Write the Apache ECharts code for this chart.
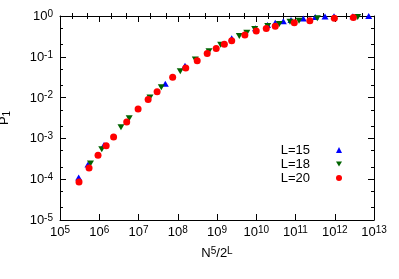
<!DOCTYPE html>
<html><head><meta charset="utf-8">
<script src="https://cdn.jsdelivr.net/npm/echarts@6/dist/echarts.min.js"></script>
<style>html,body{margin:0;padding:0;background:#fff}#c{width:399px;height:279px}</style>
</head><body><div id="c"></div>
<script>
// ---- data ----
const seriesNames = ['L=15', 'L=18', 'L=20'];
const xL15 = [2.99e5, 5.16e5, 1.32e6, 4.82e7, 1.53e8, 2.37e9, 9.57e9, 1.94e10, 3.05e10, 4.89e10, 7.68e10, 1.58e11, 3.18e11, 5.65e11, 9.58e11, 2.9e12, 7.33e12];
const yL15 = [1.10e-4, 2.29e-4, 6.89e-4, 2.19e-2, 6.05e-2, 0.284, 0.50, 0.60, 0.685, 0.741, 0.798, 0.868, 0.94, 0.977, 0.99, 0.99, 1.0];
const xL18 = [5.98e5, 1.16e6, 3.58e6, 5.8e6, 1.96e7, 3.81e7, 1.16e8, 2.80e8, 6.25e8, 1.24e9, 3.70e9, 5.74e9, 9.14e9, 1.96e10, 3.86e10, 7.24e10, 1.23e11, 3.59e11, 3.85e12];
const yL18 = [2.43e-4, 5.41e-4, 1.88e-3, 3.11e-3, 1.0e-2, 1.80e-2, 4.41e-2, 8.59e-2, 0.136, 0.198, 0.323, 0.39, 0.48, 0.569, 0.637, 0.725, 0.767, 0.879, 0.945];
const xL20 = [3.05e5, 5.50e5, 9.31e5, 1.50e6, 2.32e6, 5.01e6, 9.77e6, 1.76e7, 2.98e7, 7.42e7, 1.60e8, 3.13e8, 5.63e8, 9.54e8, 1.54e9, 2.37e9, 5.13e9, 1.00e10, 1.80e10, 3.05e10, 9.31e10, 2.32e11, 9.77e11, 2.98e12];
const yL20 = [8.5e-5, 1.88e-4, 3.85e-4, 6.6e-4, 1.08e-3, 2.52e-3, 5.26e-3, 8.98e-3, 1.39e-2, 3.15e-2, 5.31e-2, 8.0e-2, 0.120, 0.160, 0.204, 0.248, 0.342, 0.429, 0.497, 0.562, 0.685, 0.767, 0.879, 0.919];
// tick labels (exponents of 10)
const xTickExps = [5, 6, 7, 8, 9, 10, 11, 12, 13];
const yTickExps = [-5, -4, -3, -2, -1, 0];
// minor ticks
const xMinor = [2e5, 5e5, 2e6, 5e6, 2e7, 5e7, 2e8, 5e8, 2e9, 5e9, 2e10, 5e10, 2e11, 5e11, 2e12, 5e12];
const yMinor = [2e-5, 5e-5, 2e-4, 5e-4, 2e-3, 5e-3, 2e-2, 5e-2, 2e-1, 5e-1];

const FONT = 'Liberation Sans';
const rich = {
  b: { fontSize: 13, fontFamily: FONT, color: '#000', lineHeight: 14, padding: [3, 0, 0, 0], verticalAlign: 'bottom' },
  s: { fontSize: 10, fontFamily: FONT, color: '#000', lineHeight: 10, verticalAlign: 'top' }
};
const richSub = {
  b: { fontSize: 13, fontFamily: FONT, color: '#000', lineHeight: 14, padding: [0, 0, 5, 0], verticalAlign: 'top' },
  u: { fontSize: 10, fontFamily: FONT, color: '#000', lineHeight: 10, verticalAlign: 'bottom' }
};
function expLabel(v) {
  const e = Math.round(Math.log10(v));
  return '{b|10}{s|' + e + '}';
}
const xMin = Math.pow(10, xTickExps[0]), xMax = Math.pow(10, xTickExps[xTickExps.length - 1]);
const yMin = Math.pow(10, yTickExps[0]), yMax = Math.pow(10, yTickExps[yTickExps.length - 1]);
const line = { show: true, onZero: false, lineStyle: { color: '#000', width: 1 } };

function mainX(pos, labels) {
  return {
    type: 'log', position: pos, min: xMin, max: xMax, interval: 1, logBase: 10,
    axisLine: line,
    axisTick: { show: true, inside: true, length: 6, lineStyle: { color: '#000' } },
    axisLabel: { show: labels, margin: 5, formatter: expLabel, rich: rich },
    splitLine: { show: false }, minorTick: { show: false },
    name: labels ? '{b|N}{s|5}{b|/2}{s|L}' : '', nameLocation: 'middle', nameGap: 24,
    nameTextStyle: { rich: rich }
  };
}
function mainY(pos, labels) {
  return {
    type: 'log', position: pos, min: yMin, max: yMax, interval: 1, logBase: 10,
    axisLine: line,
    axisTick: { show: true, inside: true, length: 6, lineStyle: { color: '#000' } },
    axisLabel: { show: labels, margin: 7, formatter: expLabel, rich: rich },
    splitLine: { show: false }, minorTick: { show: false },
    name: labels ? '{b|P}{u|1}' : '', nameLocation: 'middle', nameGap: 48, nameRotate: 90,
    nameTextStyle: { rich: richSub }
  };
}
function minorAxis(pos, lo, hi, vals) {
  return {
    type: 'value', position: pos, min: Math.log10(lo), max: Math.log10(hi),
    axisLine: { show: false },
    axisTick: { show: true, inside: true, length: 3, lineStyle: { color: '#000' }, customValues: vals.map(v => Math.log10(v)) },
    axisLabel: { show: false }, splitLine: { show: false }
  };
}

const chart = echarts.init(document.getElementById('c'), null, { renderer: 'canvas' });
const mk = (xs, ys) => xs.map((x, i) => [x, ys[i]]);
chart.setOption({
  animation: false,
  backgroundColor: '#fff',
  grid: { left: 60, right: 25, top: 16, bottom: 59, containLabel: false, outerBoundsMode: 'none' },
  legend: {
    orient: 'vertical', right: 52, top: 138, align: 'right',
    itemWidth: 6, itemHeight: 6, itemGap: 0,
    textStyle: { fontSize: 13, fontFamily: FONT, color: '#000', lineHeight: 14, padding: [0, 21, 0, 0] },
    data: [
      { name: seriesNames[0] },
      { name: seriesNames[1], icon: 'path://M0,0L10,0L5,8.6Z' },
      { name: seriesNames[2] }
    ]
  },
  xAxis: [mainX('bottom', true), mainX('top', false), minorAxis('bottom', xMin, xMax, xMinor), minorAxis('top', xMin, xMax, xMinor)],
  yAxis: [mainY('left', true), mainY('right', false), minorAxis('left', yMin, yMax, yMinor), minorAxis('right', yMin, yMax, yMinor)],
  series: [
    { name: seriesNames[0], type: 'scatter', data: mk(xL15, yL15), symbol: 'triangle', symbolSize: [7, 6], itemStyle: { color: '#0000ff', opacity: 1 } },
    { name: seriesNames[1], type: 'scatter', data: mk(xL18, yL18), symbol: 'triangle', symbolRotate: 180, symbolSize: [7, 6], itemStyle: { color: '#006400', opacity: 1 } },
    { name: seriesNames[2], type: 'scatter', data: mk(xL20, yL20), symbol: 'circle', symbolSize: 7, itemStyle: { color: '#ff0000', opacity: 1 } }
  ]
});
</script>
</body></html>
